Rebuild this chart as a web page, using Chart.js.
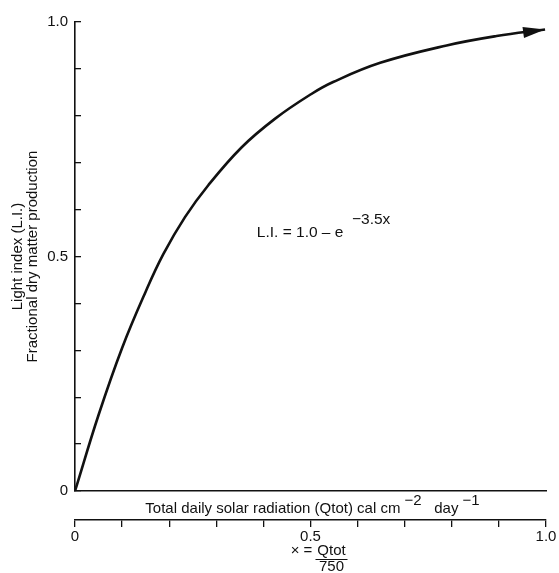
<!DOCTYPE html>
<html>
<head>
<meta charset="utf-8">
<script src="https://cdn.jsdelivr.net/npm/chart.js@4/dist/chart.umd.min.js"></script>
<style>
  html, body { margin: 0; padding: 0; background: #fff; }
  #wrap { width: 559px; height: 573px; }
</style>
</head>
<body>
<div id="wrap"><canvas id="chart"></canvas></div>
<script>
// curve: L.I. vs x = Qtot / 750
var xValues = [0, 0.05, 0.1, 0.15, 0.1875, 0.2335, 0.283, 0.354, 0.425, 0.501, 0.548, 0.648, 0.789, 0.895, 0.998];
var liValues = [0, 0.162, 0.305, 0.425, 0.505, 0.584, 0.652, 0.733, 0.794, 0.846, 0.872, 0.913, 0.950, 0.970, 0.984];

var yTickLabels = { "0": "0", "0.5": "0.5", "1": "1.0" };
var xTickLabels = { "0": "0", "0.5": "0.5", "1": "1.0" };

var yTitle = ["Light index (L.I.)", "Fractional dry matter production"];

var INK = "#111";
var FONT = "'Liberation Sans', Arial, sans-serif";

function tickKey(v) {
  return String(Math.round(v * 10) / 10);
}

// draw a run of text pieces, some raised as superscripts
function drawRich(ctx, parts, x, y, size, rise) {
  ctx.font = size + "px " + FONT;
  ctx.textBaseline = "middle";
  ctx.textAlign = "left";
  var cx = x;
  parts.forEach(function (p) {
    ctx.fillText(p.t, cx, p.sup ? y - rise : y);
    cx += ctx.measureText(p.t).width;
  });
  return cx;
}

function richWidth(ctx, parts, size) {
  ctx.font = size + "px " + FONT;
  var w = 0;
  parts.forEach(function (p) { w += ctx.measureText(p.t).width; });
  return w;
}

var textPlugin = {
  id: "texts",
  afterDraw: function (chart) {
    var ctx = chart.ctx;
    var xs = chart.scales.x, ys = chart.scales.y, x2 = chart.scales.x2;
    ctx.save();
    ctx.fillStyle = INK;
    ctx.strokeStyle = INK;

    // arrow head at the end of the curve
    var pts = chart.getDatasetMeta(0).data;
    var tip = pts[pts.length - 1], prev = pts[pts.length - 2];
    var ang = Math.atan2(tip.y - prev.y, tip.x - prev.x);
    var len = 22, half = 5.5;
    ctx.beginPath();
    ctx.moveTo(tip.x, tip.y);
    ctx.lineTo(tip.x - len * Math.cos(ang) + half * Math.sin(ang), tip.y - len * Math.sin(ang) - half * Math.cos(ang));
    ctx.lineTo(tip.x - len * Math.cos(ang) - half * Math.sin(ang), tip.y - len * Math.sin(ang) + half * Math.cos(ang));
    ctx.closePath();
    ctx.fill();

    // x axis title with superscripts
    var xt = [
      { t: "Total daily solar radiation (Qtot) cal cm" },
      { t: " \u22122", sup: true },
      { t: "   day " },
      { t: "\u22121", sup: true }
    ];
    var w = richWidth(ctx, xt, 15);
    drawRich(ctx, xt, (xs.left + xs.right) / 2 - w / 2 + 2, xs.top + 18, 15, 8);

    // equation label
    var eq = [{ t: "L.I. = 1.0 \u2013 e  " }, { t: "\u22123.5x", sup: true }];
    drawRich(ctx, eq, xs.getPixelForValue(0.386), ys.getPixelForValue(0.55), 15.5, 13);

    // x = Qtot / 750 under the lower scale
    var cx = x2.getPixelForValue(0.5) + 21;
    var cy = x2.top + 31;
    ctx.font = "15px " + FONT;
    ctx.textBaseline = "middle";
    ctx.textAlign = "right";
    ctx.fillText("\u00d7 = ", cx - 15, cy);
    ctx.textAlign = "center";
    ctx.fillText("Qtot", cx, cy);
    ctx.fillText("750", cx, cy + 16);
    ctx.lineWidth = 1.2;
    ctx.beginPath();
    ctx.moveTo(cx - 16, cy + 8.5);
    ctx.lineTo(cx + 16, cy + 8.5);
    ctx.stroke();
    ctx.restore();
  }
};

var points = xValues.map(function (v, i) { return { x: v, y: liValues[i] }; });

new Chart(document.getElementById("chart"), {
  type: "line",
  data: {
    datasets: [{
      data: points,
      borderColor: INK,
      borderWidth: 2.6,
      pointRadius: 0,
      fill: false,
      tension: 0.4
    }]
  },
  options: {
    responsive: true,
    maintainAspectRatio: false,
    animation: false,
    layout: { padding: { top: 21, right: 13, bottom: 0, left: 0 } },
    plugins: { legend: { display: false }, tooltip: { enabled: false } },
    scales: {
      x: {
        type: "linear",
        position: "bottom",
        weight: 0,
        min: 0,
        max: 1,
        ticks: { display: false },
        grid: { display: false },
        border: { display: true, color: INK, width: 1.6 },
        afterFit: function (s) { s.height = 29; }
      },
      x2: {
        type: "linear",
        position: "bottom",
        weight: 1,
        min: 0,
        max: 1,
        ticks: {
          stepSize: 0.1,
          autoSkip: false,
          maxRotation: 0,
          padding: 1,
          color: INK,
          font: { family: FONT, size: 15 },
          callback: function (v) { return xTickLabels[tickKey(v)] || ""; }
        },
        grid: { display: true, drawOnChartArea: false, drawTicks: true, tickLength: 7, color: INK, lineWidth: 1.3 },
        border: { display: true, color: INK, width: 1.6 },
        afterFit: function (s) { s.height = 53; }
      },
      y: {
        type: "linear",
        position: "left",
        min: 0,
        max: 1,
        ticks: {
          stepSize: 0.1,
          autoSkip: false,
          padding: 13,
          color: INK,
          font: { family: FONT, size: 15 },
          callback: function (v) { return yTickLabels[tickKey(v)] || ""; }
        },
        grid: { display: true, drawOnChartArea: false, drawTicks: true, tickLength: -6, color: INK, lineWidth: 1.3 },
        border: { display: true, color: INK, width: 1.6 },
        title: {
          display: true,
          text: yTitle,
          color: INK,
          font: { family: FONT, size: 15, lineHeight: 1.0 },
          padding: { top: 10.5, bottom: 0 }
        },
        afterFit: function (s) { s.width = 75; }
      }
    }
  },
  plugins: [textPlugin]
});
</script>
</body>
</html>
